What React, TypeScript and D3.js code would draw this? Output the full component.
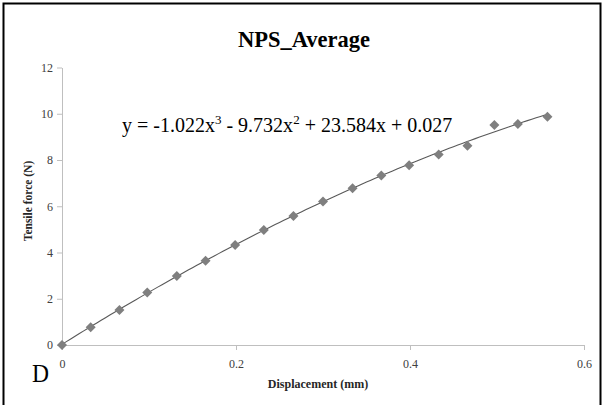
import React, { useEffect, useRef } from 'react';
import * as d3 from 'd3';

// measured points (displacement in mm, force in N)
const displacement = [0, 0.033, 0.066, 0.098, 0.132, 0.165, 0.199, 0.232, 0.266, 0.3, 0.334, 0.367, 0.399, 0.433, 0.466, 0.497, 0.524, 0.558];
const force = [0, 0.77, 1.51, 2.27, 2.98, 3.64, 4.32, 4.97, 5.58, 6.2, 6.78, 7.33, 7.77, 8.24, 8.62, 9.51, 9.56, 9.87];

// trendline coefficients, highest power first (from the chart's equation)
const coefficients = [-1.022, -9.732, 23.584, 0.027];

const xTicks = [0, 0.2, 0.4, 0.6];
const yTicks = [0, 2, 4, 6, 8, 10, 12];

const chartTitle = 'NPS_Average';
const xTitle = 'Displacement (mm)';
const yTitle = 'Tensile force (N)';
const panelLabel = 'D';

export default function App() {
    const ref = useRef<SVGSVGElement>(null);

    useEffect(() => {
        const width = 604;
        const height = 405;
        const margin = { top: 67.5, right: 20, bottom: 60, left: 62 };
        const font = 'Liberation Serif, Times New Roman, Times, serif';

        const svg = d3.select(ref.current);
        svg.selectAll('*').remove();

        svg.append('rect')
            .attr('width', width)
            .attr('height', height)
            .attr('fill', '#ffffff');

        // frame around the figure
        svg.append('rect')
            .attr('x', 3.5)
            .attr('y', 3.5)
            .attr('width', 597)
            .attr('height', 440)
            .attr('fill', 'none')
            .attr('stroke', '#000000')
            .attr('stroke-width', 2);

        const x = d3.scaleLinear().domain([0, 0.6]).range([margin.left, 584]);
        const y = d3.scaleLinear().domain([0, 12]).range([345, margin.top]);

        // axes
        const xAxis = svg.append('g')
            .attr('transform', 'translate(0,345)')
            .call(d3.axisBottom(x).tickValues(xTicks).tickSizeInner(5).tickSizeOuter(0).tickPadding(9)
                .tickFormat((d) => String(d)));
        const yAxis = svg.append('g')
            .attr('transform', 'translate(' + margin.left + ',0)')
            .call(d3.axisLeft(y).tickValues(yTicks).tickSizeInner(5).tickSizeOuter(0).tickPadding(4));

        [xAxis, yAxis].forEach((g) => {
            g.attr('font-family', font).attr('font-size', 12);
            g.select('.domain').attr('stroke', '#bfbfbf');
            g.selectAll('.tick line').attr('stroke', '#bfbfbf');
            g.selectAll('.tick text').attr('fill', '#404040');
        });

        // polynomial trendline
        const poly = (v: number) => coefficients.reduce((acc, c) => acc * v + c, 0);
        const xs = d3.range(0, displacement[displacement.length - 1] + 0.0001, 0.005);
        const line = d3.line<number>()
            .x((d) => x(d))
            .y((d) => y(poly(d)));
        svg.append('path')
            .datum(xs)
            .attr('d', line)
            .attr('fill', 'none')
            .attr('stroke', '#595959')
            .attr('stroke-width', 1.1);

        // diamond markers
        const diamond = d3.symbol().type(d3.symbolSquare).size(50);
        svg.selectAll('path.marker')
            .data(displacement)
            .enter()
            .append('path')
            .attr('class', 'marker')
            .attr('d', diamond)
            .attr('transform', (d, i) => 'translate(' + x(d) + ',' + y(force[i]) + ') rotate(45)')
            .attr('fill', '#7f7f7f');

        // title
        svg.append('text')
            .attr('x', 304)
            .attr('y', 47)
            .attr('text-anchor', 'middle')
            .attr('textLength', 132)
            .attr('lengthAdjust', 'spacingAndGlyphs')
            .attr('font-family', font)
            .attr('font-weight', 'bold')
            .attr('font-size', 24)
            .text(chartTitle);

        // equation with superscript powers
        const eq = svg.append('text')
            .attr('x', 122)
            .attr('y', 132)
            .attr('font-family', font)
            .attr('font-size', 20)
            .attr('fill', '#000000');
        const f = (v: number) => Math.abs(v).toFixed(3);
        const sign = (v: number) => (v < 0 ? ' - ' : ' + ');
        const parts: [string, string][] = [
            ['y = ' + (coefficients[0] < 0 ? '-' : '') + f(coefficients[0]) + 'x', '3'],
            [sign(coefficients[1]) + f(coefficients[1]) + 'x', '2'],
            [sign(coefficients[2]) + f(coefficients[2]) + 'x' + sign(coefficients[3]) + f(coefficients[3]), ''],
        ];
        let raised = false;
        parts.forEach(([main, sup]) => {
            const t = eq.append('tspan').text(main);
            if (raised) { t.attr('dy', 8); raised = false; }
            if (sup) {
                eq.append('tspan')
                    .attr('dy', -8)
                    .attr('font-size', 13)
                    .text(sup);
                raised = true;
            }
        });

        // axis titles
        svg.append('text')
            .attr('x', 318)
            .attr('y', 388)
            .attr('text-anchor', 'middle')
            .attr('font-family', font)
            .attr('font-weight', 'bold')
            .attr('font-size', 12)
            .attr('fill', '#262626')
            .text(xTitle);

        svg.append('text')
            .attr('transform', 'translate(32,201) rotate(-90)')
            .attr('text-anchor', 'middle')
            .attr('font-family', font)
            .attr('font-weight', 'bold')
            .attr('font-size', 11.5)
            .attr('fill', '#262626')
            .text(yTitle);

        // panel letter
        svg.append('text')
            .attr('x', 32)
            .attr('y', 382)
            .attr('textLength', 17)
            .attr('lengthAdjust', 'spacingAndGlyphs')
            .attr('font-family', font)
            .attr('font-size', 26)
            .text(panelLabel);
    }, []);

    return (
        <svg ref={ref} width={604} height={405}
            style={{ position: 'absolute', left: 0, top: 0, display: 'block' }} />
    );
}
